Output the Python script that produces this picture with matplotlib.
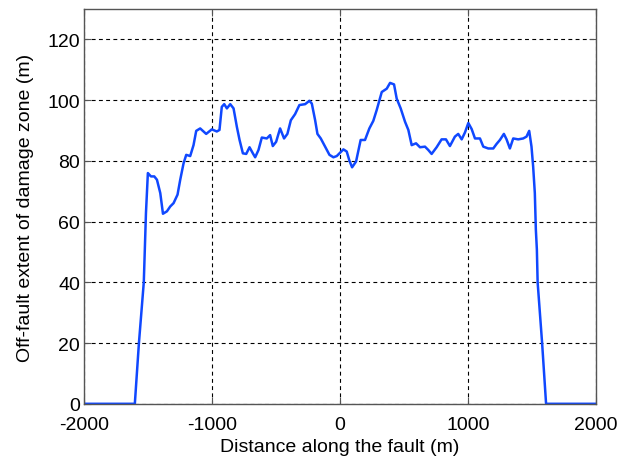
import matplotlib
matplotlib.use("Agg")
import matplotlib.pyplot as plt
import numpy as np

# distance along the fault (m) and off-fault damage zone extent (m)
distance = [-2000, -1605, -1573, -1535, -1529, -1518, -1503, -1479, -1453, -1432,
            -1406, -1385, -1354, -1328, -1302, -1271, -1250, -1224, -1203, -1172,
            -1146, -1125, -1094, -1047, -1003, -964, -943, -925, -906, -885,
            -859, -833, -807, -786, -760, -734, -708, -682, -664, -638,
            -612, -573, -547, -526, -500, -469, -438, -412, -385, -352,
            -318, -273, -240, -221, -195, -177, -151, -117, -83, -52,
            -26, 26, 52, 73, 94, 125, 161, 195, 229, 260,
            286, 326, 365, 391, 422, 443, 474, 508, 534, 560,
            594, 625, 664, 690, 716, 755, 794, 828, 859, 898,
            924, 951, 977, 1003, 1029, 1055, 1094, 1120, 1159, 1198,
            1224, 1250, 1281, 1302, 1328, 1354, 1393, 1432, 1458, 1479,
            1497, 1510, 1523, 1531, 1539, 1545, 1580, 1611, 2000]
extent = [0, 0, 20, 40, 48, 62.8, 76, 74.9, 74.9, 73.8,
          69.4, 62.6, 63.4, 65, 66.1, 68.9, 73.8, 79.2, 82, 81.6,
          85.2, 89.9, 90.7, 88.9, 90.4, 89.7, 90.2, 97.8, 98.7, 97.3,
          98.7, 97.3, 91.2, 86.9, 82.5, 82.3, 84.5, 82.5, 81.2, 83.6,
          87.7, 87.4, 88.5, 84.9, 86.3, 90.7, 87.4, 88.9, 93.4, 95.4,
          98.4, 98.7, 99.8, 98.9, 93.4, 88.9, 87.4, 84.7, 82, 81.2,
          81.6, 83.8, 83.1, 80.1, 77.9, 79.8, 86.9, 86.9, 90.7, 93.2,
          96.7, 102.7, 103.8, 105.7, 105.2, 100.5, 97.3, 92.9, 90.2, 85.2,
          85.8, 84.5, 84.7, 83.6, 82.3, 84.5, 87.1, 87.1, 84.9, 88,
          88.9, 87.1, 89.4, 92.5, 90.5, 87.4, 87.4, 84.7, 84.1, 84.1,
          85.6, 86.9, 88.9, 87.1, 84.1, 87.4, 87.1, 87.4, 88, 89.9,
          84.7, 78.1, 69.4, 57.4, 50.8, 40, 20, 0, 0]

xticks = [-2000, -1000, 0, 1000, 2000]
yticks = [0, 20, 40, 60, 80, 100, 120]

plt.rcParams['font.family'] = ['Liberation Sans', 'DejaVu Sans']

fig = plt.figure(figsize=(6.2, 4.6), dpi=100)
ax = fig.add_axes([0.136, 0.12, 0.825, 0.858])

ax.plot(distance, extent, color='#1048ff', linewidth=1.8)

ax.set_xlim(-2000, 2000)
ax.set_ylim(0, 130)
ax.set_xticks(xticks)
ax.set_yticks(yticks)
ax.set_xticklabels([str(t) for t in xticks])
ax.grid(True, linestyle=(0, (3.5, 3)), color='black', linewidth=0.8)
ax.tick_params(direction='in', top=True, right=True, labelsize=14, length=5,
               color='#555555')
ax.tick_params(axis='x', pad=9)
ax.tick_params(axis='y', pad=3)
for s in ax.spines.values():
    s.set_color('#555555')
    s.set_linewidth(1.0)

ax.set_xlabel('Distance along the fault (m)', fontsize=14, labelpad=3.5)
ax.set_ylabel('Off-fault extent of damage zone (m)', fontsize=14, labelpad=10)

fig.savefig('out.png', dpi=100)
